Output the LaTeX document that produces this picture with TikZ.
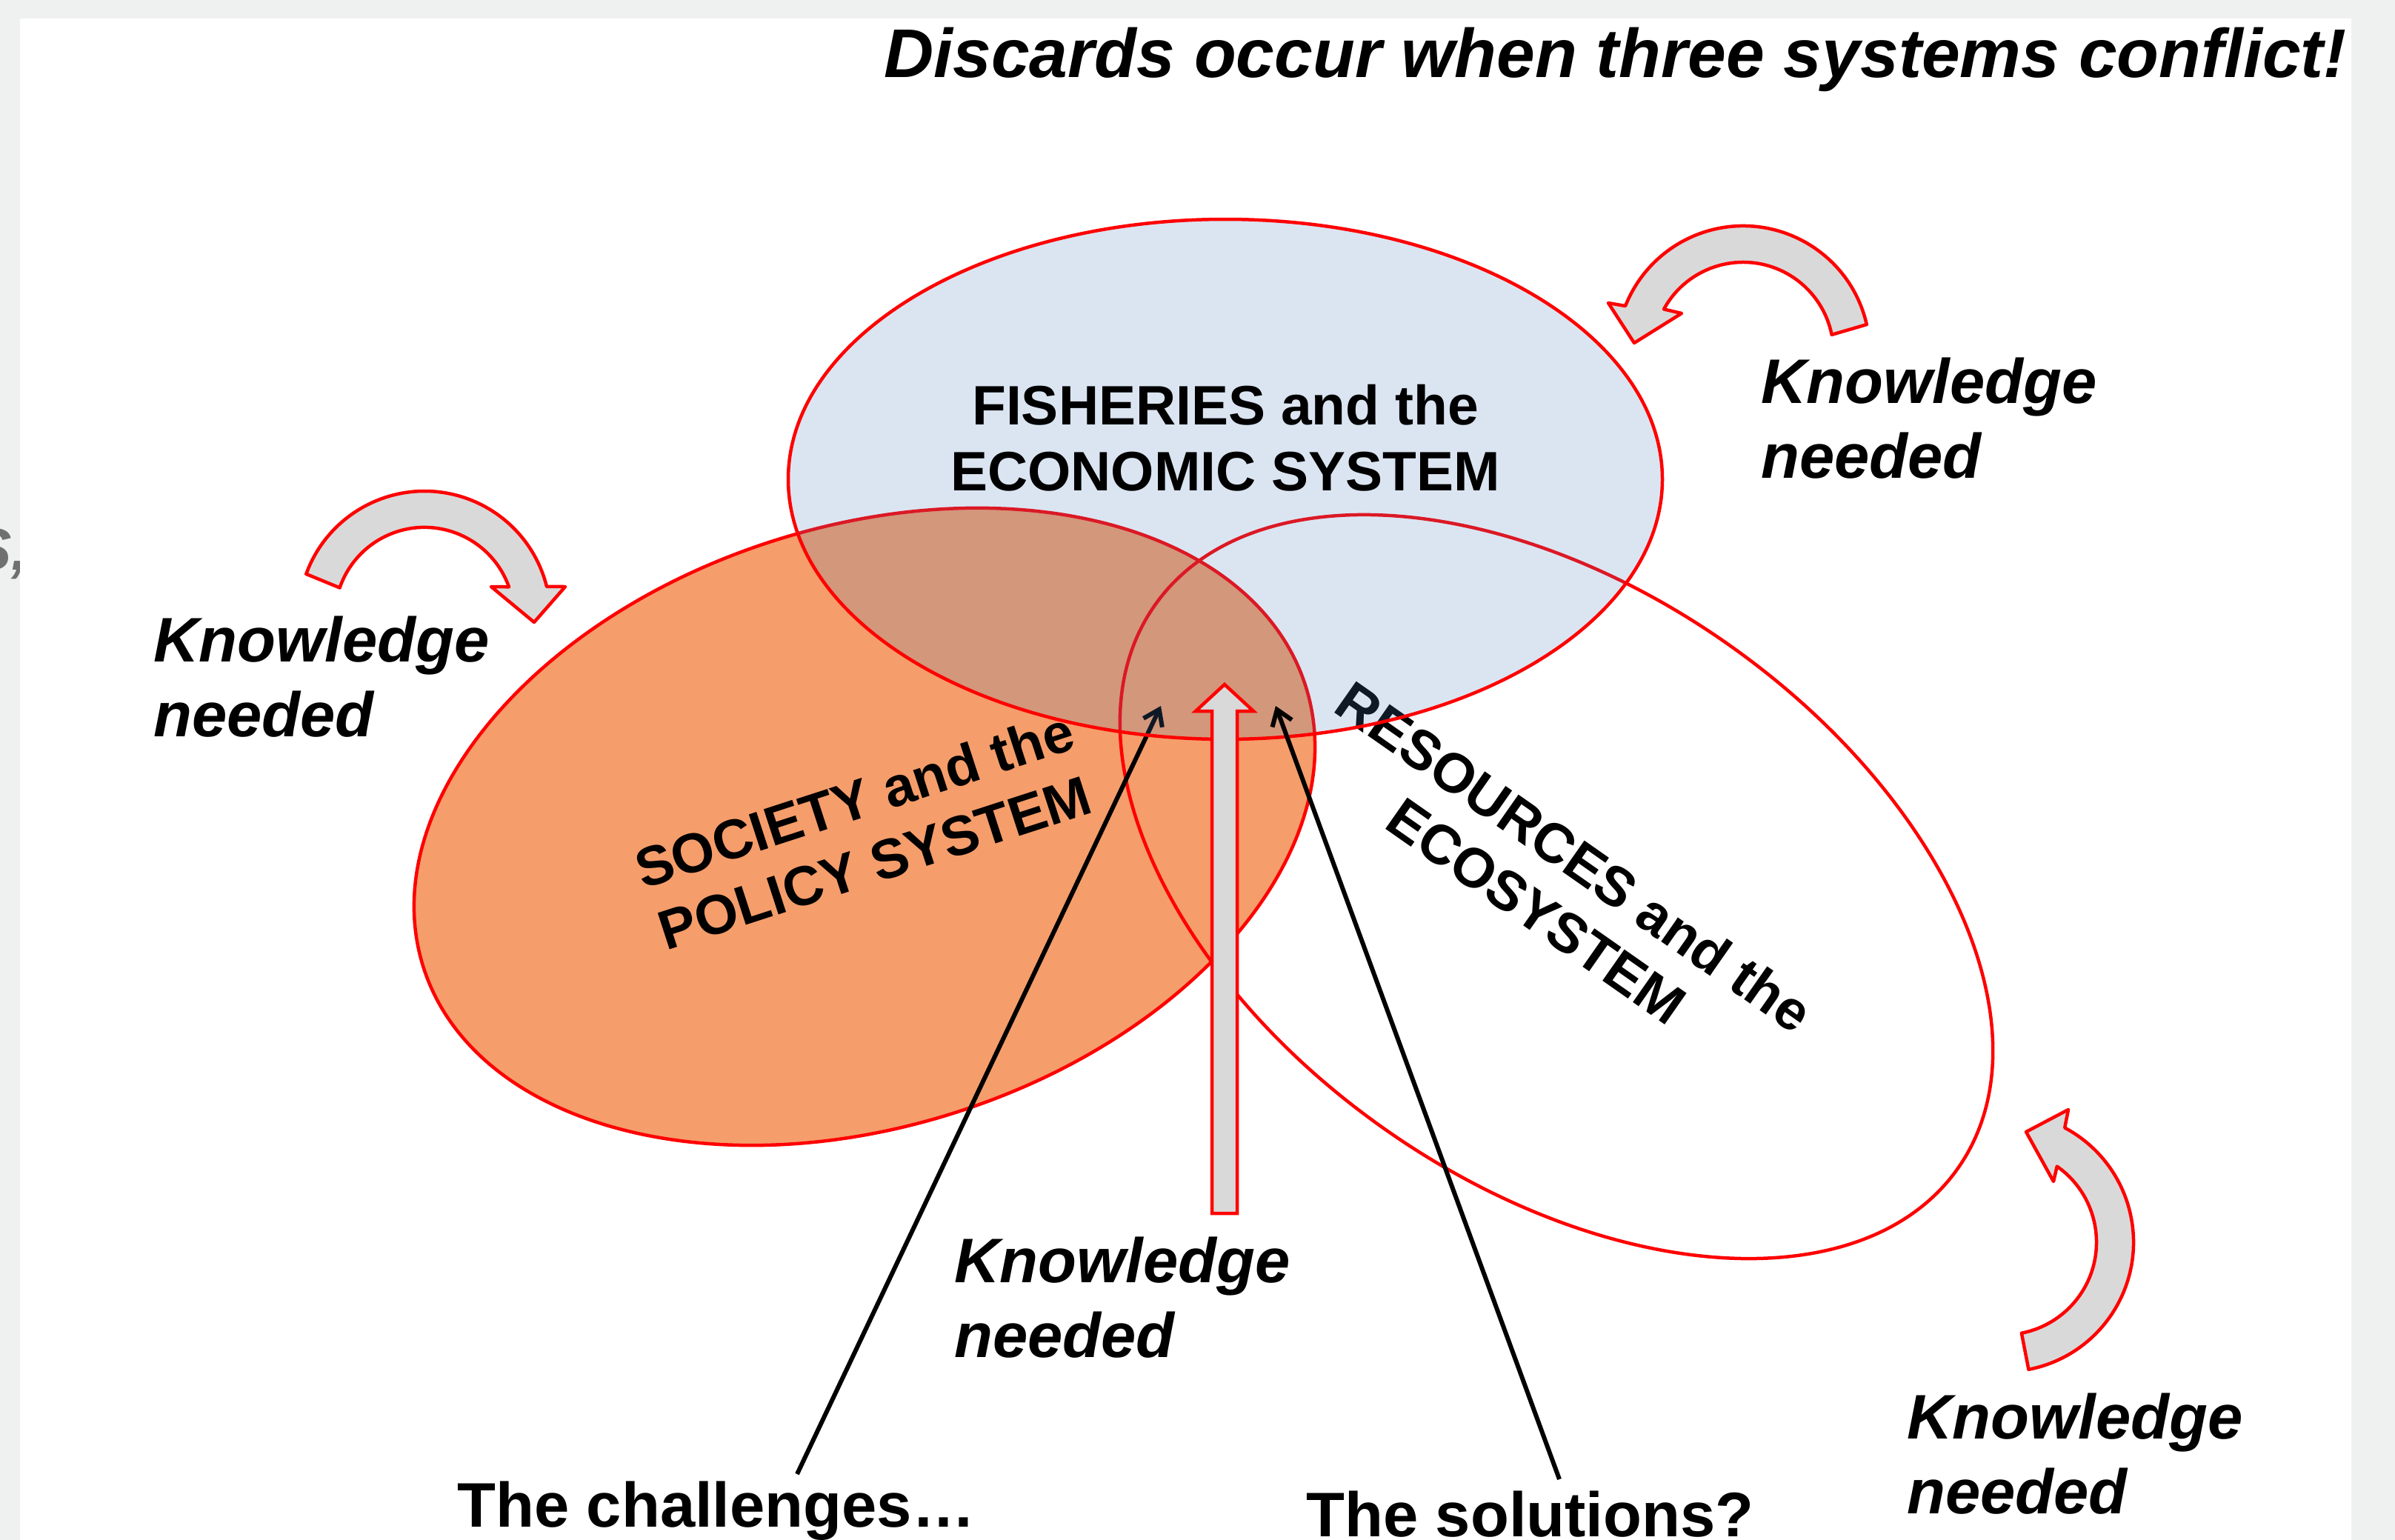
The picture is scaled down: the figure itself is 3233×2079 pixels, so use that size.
\documentclass[tikz,border=0pt]{standalone}
\usepackage{fontspec}
\setmainfont{Liberation Sans}
\usetikzlibrary{arrows.meta}
\definecolor{bggrey}{HTML}{EFF1F0}
\definecolor{fragrey}{HTML}{707070}
\definecolor{socorange}{HTML}{F59D6B}
\definecolor{fishblue}{HTML}{4F81BD}
\definecolor{arrgrey}{HTML}{D9D9D9}
\tikzset{
  sysline/.style={draw=red, line width=4.5pt},
  curvarrow/.style={fill=arrgrey, draw=red, line width=4.5pt, line join=round},
  systxt/.style={font=\fontsize{75}{89}\selectfont\bfseries, inner sep=0pt, align=center},
  knowtxt/.style={font=\fontsize{85}{101}\selectfont\bfseries\itshape, inner sep=0pt, anchor=base west},
  bottxt/.style={font=\fontsize{85}{101}\selectfont\bfseries, inner sep=0pt, anchor=base west},
  pointer/.style={line width=6pt, -{Straight Barb[length=20pt,width=28pt]}},
}
\newcommand{\twolines}[2]{\begin{tabular}[t]{@{}l@{}}#1\\#2\end{tabular}}
\begin{document}
\begin{tikzpicture}[x=1pt,y=1pt]
\useasboundingbox (0,0) rectangle (3233,-2079);
% background and slide panel
\fill[bggrey] (0,0) rectangle (3233,-2079);
\node[font=\fontsize{80}{96}\selectfont\bfseries\itshape, text=fragrey, inner sep=0pt, anchor=base east] (frag) at (38,-769) {S,};
\fill[white] (27,-25) rectangle (3174,-2079);

% SOCIETY ellipse (opaque orange)
\draw[sysline, fill=socorange] (1167,-1116) circle[x radius=625, y radius=405, rotate=17.7];
% RESOURCES ellipse (outline only)
\draw[sysline] (2101,-1197) circle[x radius=662, y radius=401, rotate=-35];

\node[systxt, rotate=18] (soc) at (1167,-1122) {SOCIETY and the\\POLICY SYSTEM};
\node[systxt, rotate=-35] (res) at (2100,-1193) {RESOURCES and the\\ECOSYSTEM};

% left pointer (lies under the blue ellipse)
\node[bottxt] (chal) at (617,-2061) {The challenges\dots};
\coordinate (chalstart) at (1076,-1990);
\coordinate (tipL) at (1567,-953);
\draw[pointer] (chalstart) -- (tipL);

% FISHERIES ellipse (translucent blue)
\draw[sysline, fill=fishblue, fill opacity=0.2] (1654,-647) circle[x radius=590, y radius=351];
\node[systxt] (fish) at (1654,-591) {FISHERIES and the\\ECONOMIC SYSTEM};

% right pointer
\node[bottxt] (sol) at (1763,-2074) {The solutions?};
\coordinate (solstart) at (2105,-1997);
\coordinate (tipR) at (1722,-953);
\draw[pointer] (solstart) -- (tipR);

% vertical block arrow
\draw[curvarrow, line join=miter] (1653,-924) -- (1692,-960) -- (1670,-960) -- (1670,-1638)
  -- (1636,-1638) -- (1636,-960) -- (1614,-960) -- cycle;

% curved block arrows
\draw[curvarrow] (413.3,-774.9) arc[start angle=160, end angle=14, radius=170]
  -- (763,-792) -- (721,-840) -- (663,-792) -- (687,-792.3)
  arc[start angle=19.6, end angle=161, radius=121] -- cycle;
\draw[curvarrow] (2519.8,-438.1) arc[start angle=12.8, end angle=158.4, radius=171]
  -- (2171,-409) -- (2206,-463) -- (2270,-423) -- (2246,-417.4)
  arc[start angle=151.3, end angle=11.4, radius=122] -- cycle;
\draw[curvarrow] (2738.4,-1848.8) arc[start angle=-79, end angle=62, radius=175]
  -- (2792,-1498) -- (2735,-1528) -- (2772,-1595) -- (2776.7,-1574.6)
  arc[start angle=55, end angle=-79, radius=125] -- cycle;

% labels
\node[knowtxt] (kn1) at (207,-893) {\twolines{Knowledge}{needed}};
\node[knowtxt] (kn2) at (2377,-544) {\twolines{Knowledge}{needed}};
\node[knowtxt] (kn3) at (1288,-1731) {\twolines{Knowledge}{needed}};
\node[knowtxt] (kn4) at (2574,-1942) {\twolines{Knowledge}{needed}};

% title
\node[font=\fontsize{93}{110}\selectfont\bfseries\itshape, inner sep=0pt, anchor=base east] (title) at (3168,-105) {Discards occur when three systems conflict!};
\end{tikzpicture}
\end{document}
